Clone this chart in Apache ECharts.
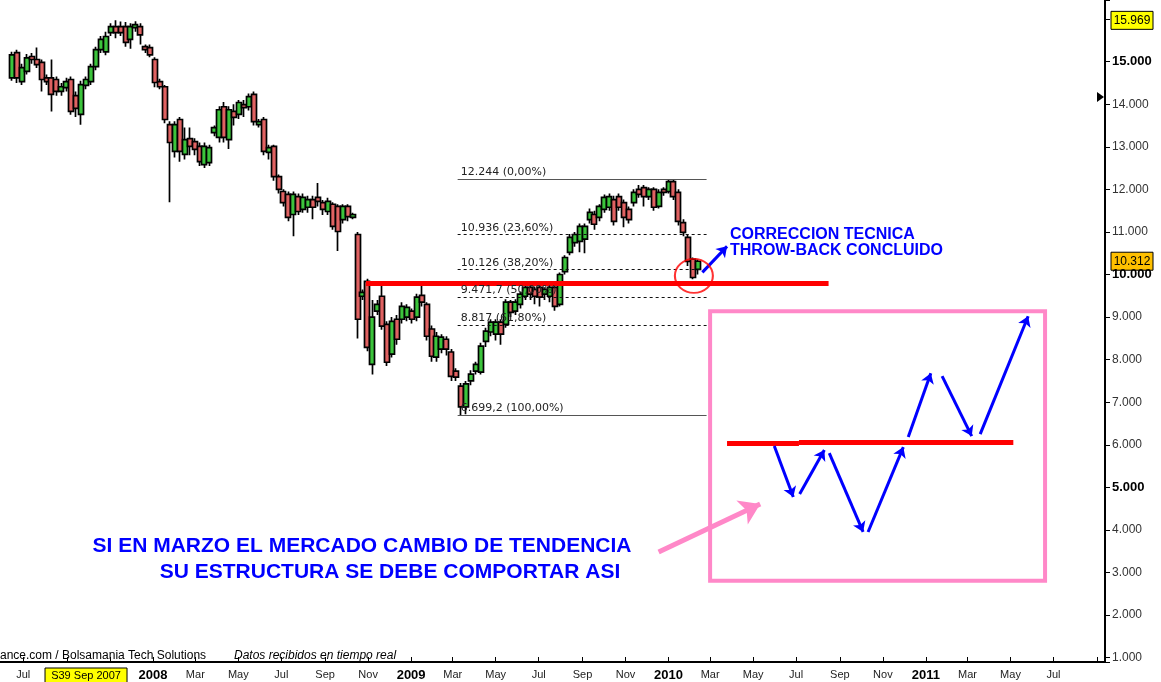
<!DOCTYPE html>
<html>
<head>
<meta charset="utf-8">
<script src="https://cdn.jsdelivr.net/npm/echarts@6/dist/echarts.min.js"></script>
<style>
  html, body { margin: 0; padding: 0; background: #fff; }
  #chart { width: 1161px; height: 682px; }
</style>
</head>
<body>
<div id="chart"></div>
<script>
// semanal, ultima vela 12-feb-2010 ; filas = [apertura, cierre, minimo, maximo]
const lastWeek = '2010-02-12';
const candles = [
  [14620,15160,14550,15230],[15210,14620,14500,15280],[14530,14860,14450,14950],[14770,15090,14700,15180],
  [15120,15050,14950,15200],[15050,14930,14850,15330],[14980,14580,14300,15050],[14620,14530,14450,14700],
  [14620,14230,13830,15050],[14580,14300,14200,14650],[14300,14410,14200,14500],[14390,14530,14300,14620],
  [14580,13830,13750,14650],[14200,13900,13700,14300],[13760,14460,13520,14550],[14440,14580,14350,14650],
  [14530,14880,14450,14950],[14880,15280,14800,15350],[15280,15520,15200,15600],[15230,15590,15150,15700],
  [15680,15820,15600,15900],[15820,15680,15550,15969],[15820,15680,15600,15940],[15820,15450,15350,15930],
  [15520,15820,15300,15900],[15800,15870,15700,15950],[15820,15630,15400,15900],[15350,15280,15200,15400],
  [15330,15160,15100,15400],[15050,14510,14400,15100],[14530,14410,14350,14600],[14410,13640,13550,14450],
  [13520,13100,11700,13600],[12890,13520,12750,13600],[13640,12890,12650,13700],[12820,13170,12700,13450],
  [13190,13010,12800,13450],[13120,12940,12800,13200],[13010,12650,12550,13100],[12580,13010,12500,13100],
  [12630,12980,12550,13050],[13330,13450,13250,13500],[13220,13870,13100,13950],[13940,13220,13100,14050],
  [13170,13870,12950,13950],[13830,13690,13500,14000],[13760,14040,13650,14100],[13990,13920,13700,14100],
  [13940,14180,13850,14250],[14230,13590,13500,14300],[13520,13590,13450,13650],[13640,12890,12800,13700],
  [12870,12980,12700,13050],[13010,12300,12200,13050],[12300,12000,11900,12350],[11950,11690,11600,12000],
  [11880,11340,11250,11950],[11410,11880,10900,11950],[11830,11480,11400,11900],[11530,11810,11450,11900],
  [11580,11760,11450,11850],[11760,11580,11300,11850],[11810,11720,11600,12150],[11690,11530,11400,11750],
  [11480,11720,11400,11800],[11650,11130,11050,11700],[11600,11010,10550,11650],[11290,11600,11200,11650],
  [11600,11360,11250,11650],[11340,11410,11300,11450],[10940,8950,8500,11000],[9490,9580,9400,9650],
  [9840,8290,8200,9900],[7890,9000,7650,9400],[9140,9300,9050,9400],[9490,8790,8700,9800],
  [8830,7940,7850,8900],[8130,8900,8050,9000],[8950,8480,8350,9050],[8950,9250,8850,9350],
  [9000,9230,8900,9300],[9140,8950,8850,9200],[9000,9470,8900,9550],[9510,9350,9250,9800],
  [9300,8550,8450,9350],[8720,8080,7950,8800],[8060,8550,7950,8650],[8250,8530,8150,8600],
  [8480,8250,8100,8550],[8180,7610,7500,8250],[7730,7590,7500,7800],[7380,6890,6700,7450],
  [6890,7430,6720,7500],[7500,7660,7400,7750],[7730,7890,7650,7950],[7710,8320,7650,8400],
  [8430,8670,8300,8750],[8650,8880,8550,8950],[8600,8880,8450,8950],[8880,8600,8350,8950],
  [8830,9350,8750,9420],[9350,9110,9000,9400],[9140,9350,9050,9420],[9300,9540,9200,9600],
  [9490,9700,9400,9750],[9700,9540,9400,9780],[9650,9490,9300,9720],[9700,9470,9250,9750],
  [9540,9650,9400,9700],[9490,9700,9350,9780],[9700,9250,9150,9750],[9300,10000,9250,10050],
  [10070,10400,10000,10450],[10520,10870,10450,10950],[10750,10940,10650,11000],[10780,11130,10520,11200],
  [10830,11130,10500,11200],[11290,11460,11200,11550],[11410,11180,11050,11500],[11340,11600,11250,11650],
  [11530,11810,11450,11880],[11580,11830,11500,11900],[11760,11250,11150,11850],[11830,11580,11500,11900],
  [11690,11340,11110,11760],[11530,11290,11200,11600],[11690,11930,11600,12000],[12000,11880,11800,12100],
  [12040,11830,11600,12100],[11830,12000,11750,12050],[12000,11580,11500,12050],[11600,11930,11550,12000],
  [12000,11930,11850,12050],[11950,12180,11900,12244],[12180,11830,11750,12230],[11930,11250,11150,12000],
  [11220,10990,10900,11300],[10870,10310,10200,10950],[10360,9930,9890,10400],[10120,10312,10000,10350]
];

// retrocesos de Fibonacci
const fibRange = ['2009-03-08', '2010-02-24'];
const fibLevels = [12244, 10936, 10126, 9471.7, 8817, 6699.2];
const fibLabels = ['12.244 (0,00%)', '10.936 (23,60%)', '10.126 (38,20%)', '9.471,7 (50,00%)', '8.817 (61,80%)', '6.699,2 (100,00%)'];

// dibujos del analista
const resistanceLine = [['2008-10-29', 9800], ['2010-08-16', 9800]];
const scenarioBox = [['2010-03-01', 9137], ['2011-06-19', 2806]];
const scenarioLines = [
  [['2010-03-25', 6042], ['2010-07-05', 6042]],
  [['2010-07-05', 6072], ['2011-05-05', 6072]]
];
const scenarioArrows = [
  [['2010-05-31', 5971], ['2010-06-27', 4775]],
  [['2010-07-06', 4845], ['2010-08-10', 5877]],
  [['2010-08-17', 5807], ['2010-10-04', 3954]],
  [['2010-10-11', 3954], ['2010-11-30', 5947]],
  [['2010-12-07', 6182], ['2011-01-08', 7683]],
  [['2011-01-24', 7612], ['2011-03-07', 6205]],
  [['2011-03-19', 6252], ['2011-05-26', 9019]]
];
const reboundArrow = [['2010-02-18', 10051], ['2010-03-25', 10661]];
const pinkArrow = [['2009-12-18', 3485], ['2010-05-11', 4611]];
const circleMark = ['2010-02-06', 9969];

const priceFlags = [15969, 10312];
const flagColors = ['#ffff00', '#ffc000'];
const monthNames = ['Ene', 'Feb', 'Mar', 'Apr', 'May', 'Jun', 'Jul', 'Aug', 'Sep', 'Oct', 'Nov', 'Dec'];
const weekLabel = ['2007-09-28', 'S39 Sep 2007'];

const DAY = 86400000;
const FONT = '"Liberation Sans", Arial, sans-serif';
const t = s => +echarts.time.parse(s);
const fmt = v => (v / 1000).toFixed(3);

const lastT = t(lastWeek);
const candleData = candles.map((c, i) => [lastT - (candles.length - 1 - i) * 7 * DAY].concat(c));

const seg = (a, b, extra) => [Object.assign({ coord: [t(a[0]), a[1]] }, extra || {}), { coord: [t(b[0]), b[1]] }];

let chart = echarts.init(document.getElementById('chart'));
let option = {
  animation: false,
  backgroundColor: '#fff',
  grid: { left: 0, right: 56, top: 0, bottom: 19 },
  xAxis: {
    type: 'time',
    min: t('2007-05-29'),
    max: t('2011-09-12'),
    splitNumber: 26,
    minInterval: 62 * DAY,
    maxInterval: 62 * DAY,
    axisLine: { lineStyle: { color: '#000', width: 2 } },
    axisTick: { show: true, inside: true, length: 5, lineStyle: { color: '#000', width: 1 } },
    splitLine: { show: false },
    minorTick: { show: false },
    axisLabel: {
      margin: 7,
      hideOverlap: false,
      showMinLabel: false,
      showMaxLabel: false,
      color: '#222',
      fontSize: 11,
      fontFamily: FONT,
      formatter: function (value) {
        const d = new Date(value);
        const m = d.getMonth(), y = d.getFullYear();
        if (y === 2007 && (m === 8 || m === 10)) return '';
        if (y === 2011 && m > 6) return '';
        if (m === 0) return '{y|' + y + '}';
        return monthNames[m];
      },
      rich: { y: { fontWeight: 'bold', fontSize: 13, color: '#000', fontFamily: FONT } }
    }
  },
  yAxis: {
    type: 'value',
    position: 'right',
    min: 900,
    max: 16447,
    splitNumber: 15,
    minInterval: 1000,
    maxInterval: 1000,
    axisLine: { show: true, lineStyle: { color: '#000', width: 2 } },
    axisTick: { show: true, length: 5, lineStyle: { color: '#000' } },
    splitLine: { show: false },
    axisLabel: {
      margin: 7,
      color: '#333',
      fontSize: 12,
      fontFamily: FONT,
      formatter: function (v) {
        if (v < 1000 || v > 15000 || v % 1000 !== 0) return '';
        return v % 5000 === 0 ? '{b|' + fmt(v) + '}' : fmt(v);
      },
      rich: { b: { fontWeight: 'bold', fontSize: 13, color: '#000', fontFamily: FONT } }
    }
  },
  series: [
    {
      name: 'fibo',
      type: 'line',
      data: [],
      silent: true,
      z: 1,
      markLine: {
        silent: true,
        animation: false,
        symbol: ['none', 'none'],
        data: fibLevels.map((v, i) => {
          const edge = i === 0 || i === fibLevels.length - 1;
          return seg([fibRange[0], v], [fibRange[1], v], {
            lineStyle: { color: edge ? '#555' : '#111', width: 1, type: edge ? 'solid' : [3, 3] },
            label: {
              show: true, position: 'insideStartTop', distance: [3, 1], formatter: fibLabels[i],
              color: '#222', fontSize: 11, fontFamily: '"DejaVu Sans", sans-serif'
            }
          });
        })
      }
    },
    {
      name: 'IBEX',
      type: 'candlestick',
      data: candleData,
      barWidth: 5.5,
      z: 3,
      itemStyle: {
        color: '#3cc43c', color0: '#e06262',
        borderColor: '#000', borderColor0: '#000', borderWidth: 1.7
      }
    },
    {
      name: 'escenario',
      type: 'line',
      data: [],
      silent: true,
      z: 4,
      markArea: {
        silent: true,
        itemStyle: { color: 'rgba(0,0,0,0)', borderColor: '#ff88c8', borderWidth: 4 },
        data: [seg(scenarioBox[0], scenarioBox[1])]
      },
      markLine: {
        silent: true,
        animation: false,
        symbol: ['none', 'none'],
        label: { show: false },
        data: [seg(resistanceLine[0], resistanceLine[1], { lineStyle: { color: '#ff0000', width: 5, type: 'solid' } })]
          .concat(scenarioLines.map(l => seg(l[0], l[1], { lineStyle: { color: '#ff0000', width: 5, type: 'solid' } })))
      }
    },
    {
      name: 'flechas',
      type: 'line',
      data: [],
      silent: true,
      z: 5,
      markLine: {
        silent: true,
        animation: false,
        symbol: ['none', 'arrow'],
        symbolSize: 10,
        label: { show: false },
        lineStyle: { color: '#0000ff', width: 3, type: 'solid' },
        data: scenarioArrows.concat([reboundArrow]).map(a => seg(a[0], a[1]))
      }
    },
    {
      name: 'flechaRosa',
      type: 'line',
      data: [],
      silent: true,
      z: 5,
      markLine: {
        silent: true,
        animation: false,
        symbol: ['none', 'arrow'],
        symbolSize: 20,
        label: { show: false },
        lineStyle: { color: '#ff88c8', width: 5, type: 'solid' },
        data: [seg(pinkArrow[0], pinkArrow[1])]
      }
    },
    {
      name: 'circulo',
      type: 'scatter',
      silent: true,
      z: 6,
      symbol: 'circle',
      symbolSize: [38, 34],
      itemStyle: { color: 'rgba(0,0,0,0)', borderColor: '#ff0000', borderWidth: 2 },
      data: [[t(circleMark[0]), circleMark[1]]]
    }
  ]
};
chart.setOption(option);

// etiquetas fijas sobre los ejes y textos
const blueText = (txt, x, y, size, align) => ({
  type: 'text', x: x, y: y, z: 50,
  style: {
    text: txt, font: 'bold ' + size + 'px ' + FONT, fill: '#0000ff',
    textAlign: align, textVerticalAlign: 'middle', align: align, verticalAlign: 'middle'
  }
});

const graphics = [];
priceFlags.forEach((v, i) => {
  const y = chart.convertToPixel({ yAxisIndex: 0 }, v);
  graphics.push({
    type: 'group', x: 1111, y: y - 9, z: 60,
    children: [
      { type: 'rect', shape: { x: 0, y: 0, width: 42, height: 18 }, style: { fill: flagColors[i], stroke: '#000', lineWidth: 1 } },
      { type: 'text', x: 21, y: 9, style: { text: fmt(v), font: '12px ' + FONT, fill: '#000', textAlign: 'center', textVerticalAlign: 'middle', align: 'center', verticalAlign: 'middle' } }
    ]
  });
});
const wx = chart.convertToPixel({ xAxisIndex: 0 }, t(weekLabel[0]));
graphics.push({
  type: 'group', x: wx - 41, y: 668, z: 60,
  children: [
    { type: 'rect', shape: { x: 0, y: 0, width: 82, height: 16 }, style: { fill: '#ffff00', stroke: '#000', lineWidth: 1 } },
    { type: 'text', x: 41, y: 8, style: { text: weekLabel[1], font: '11px ' + FONT, fill: '#000', textAlign: 'center', textVerticalAlign: 'middle', align: 'center', verticalAlign: 'middle' } }
  ]
});
graphics.push({ type: 'polygon', z: 60, shape: { points: [[1097, 92], [1104, 97], [1097, 102]] }, style: { fill: '#000' } });
graphics.push({ type: 'text', x: 0, y: 656, z: 50, style: { text: 'ance.com / Bolsamania Tech Solutions', font: '12px ' + FONT, fill: '#000', textVerticalAlign: 'middle', verticalAlign: 'middle' } });
graphics.push({ type: 'text', x: 234, y: 656, z: 50, style: { text: 'Datos recibidos en tiempo real', font: 'italic 12px ' + FONT, fill: '#000', textVerticalAlign: 'middle', verticalAlign: 'middle' } });
graphics.push(blueText('CORRECCION TECNICA', 730, 235, 16, 'left'));
graphics.push(blueText('THROW-BACK CONCLUIDO', 730, 251, 16, 'left'));
graphics.push(blueText('SI EN MARZO EL MERCADO CAMBIO DE TENDENCIA', 362, 546, 21, 'center'));
graphics.push(blueText('SU ESTRUCTURA SE DEBE COMPORTAR ASI', 390, 572, 21, 'center'));

chart.setOption({ graphic: graphics });
</script>
</body>
</html>
